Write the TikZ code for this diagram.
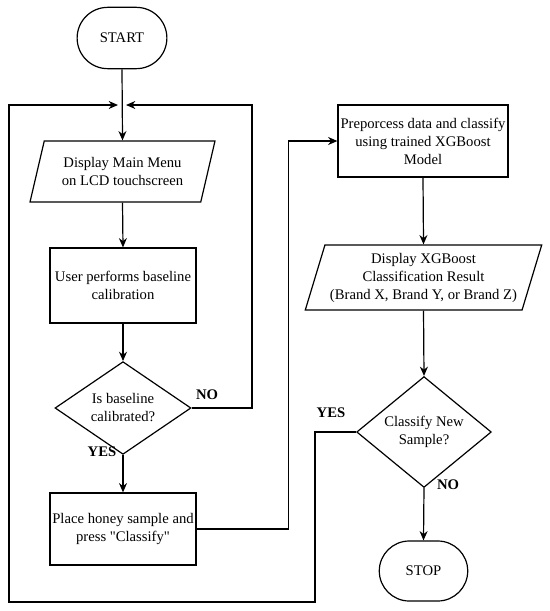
\documentclass[tikz,border=0pt]{standalone}
\usepackage{fontspec}
\setmainfont{Liberation Serif}[Ligatures=TeXOff]
\usetikzlibrary{arrows.meta,positioning,shapes.geometric,shapes.misc}

\begin{document}
\begin{tikzpicture}[x=0.75pt, y=-0.75pt,
  every node/.style={font=\fontsize{11}{13.5}\selectfont, align=center},
  terminal/.style={draw, line width=0.9pt, rounded rectangle, minimum width=74pt, minimum height=46pt},
  procbox/.style={draw, line width=0.9pt, rectangle, inner sep=1pt},
  iobox/.style={draw, line width=0.9pt, trapezium, trapezium left angle=70, trapezium right angle=110, trapezium stretches=true, inner sep=1pt},
  decision/.style={draw, line width=0.9pt, diamond, inner sep=0pt},
  flow/.style={-{Stealth[length=7pt,width=6pt]}, line width=0.9pt},
  lbl/.style={font=\fontsize{11}{13.5}\selectfont\bfseries}]
  \useasboundingbox (0,0) rectangle (550,611);
  % Left column
  \node[terminal] (start) at (122,38) {START};
  \coordinate (join) at (122,105);
  \node[iobox, minimum width=138.75pt, minimum height=45.75pt] (menu) at (122.5,171.5) {Display Main Menu\\on LCD touchscreen};
  \node[procbox, minimum width=109.5pt, minimum height=56.25pt] (calib) at (123,285.5) {User performs baseline\\calibration};
  \node[decision, minimum width=102pt, minimum height=54pt] (check) at (123,408) {Is baseline\\calibrated?};
  \node[procbox, minimum width=109.5pt, minimum height=54pt] (place) at (123,529) {Place honey sample and\\press "Classify"};
  % Right column
  \node[procbox, minimum width=127.5pt, minimum height=54pt] (proc) at (423,141) {Preporcess data and classify\\using trained XGBoost\\Model};
  \node[iobox, minimum width=177.75pt, minimum height=48.75pt] (result) at (423.5,277.5) {Display XGBoost\\Classification Result\\(Brand X, Brand Y, or Brand Z)};
  \node[decision, minimum width=101pt, minimum height=72pt] (again) at (424,432) {Classify New\\Sample?};
  \node[terminal, minimum width=73pt, minimum height=45pt] (stop) at (423.5,571) {STOP};
  % Branch labels
  \node[lbl] (nocal) at (207,395) {NO};
  \node[lbl] (yescal) at (102,452) {YES};
  \node[lbl] (yesnew) at (331,413) {YES};
  \node[lbl] (nonew) at (448,485) {NO};
  % Connectors
  \draw[flow] (start.south) -- (menu.north);
  \draw[flow] (menu.south) -- (calib.north);
  \draw[flow] (calib.south) -- (check.north);
  \draw[flow] (check.south) -- (place.north);
  \draw[flow] (check.east) -| (252,105) -- ([xshift=3pt]join);
  \draw[flow] (place.east) -- ++(92,0) |- (proc.west);
  \draw[flow] (proc.south) -- (result.north);
  \draw[flow] (result.south) -- (again.north);
  \draw[flow] (again.south) -- (stop.north);
  \draw[flow] (again.west) -- ++(-41,0) |- (9,602) |- ([xshift=-3pt]join);
\end{tikzpicture}
\end{document}
